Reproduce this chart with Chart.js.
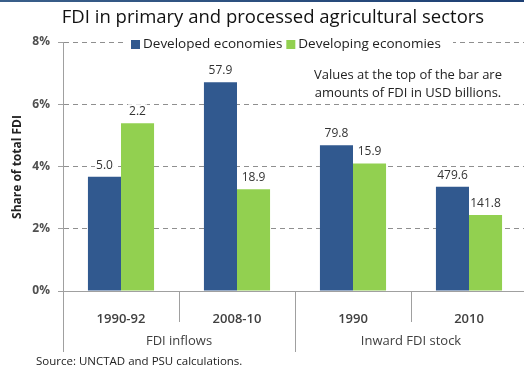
<!DOCTYPE html>
<html>
<head>
<meta charset="utf-8">
<script src="https://cdn.jsdelivr.net/npm/chart.js@4.4.1/dist/chart.umd.min.js"></script>
<style>
  html, body { margin: 0; padding: 0; background: #fff; overflow: hidden; }
  #band { position: absolute; left: 0; top: 0; width: 524px; height: 2px; background: linear-gradient(90deg, #3a5f8a, #1d3f73); }
  #wrap { position: absolute; left: 0; top: 0; width: 530px; height: 368px; }
</style>
</head>
<body>
<div id="wrap"><canvas id="FdiChart" width="530" height="368"></canvas></div>
<div id="band"></div>
<script>
// categories and series
const periods = ['1990-92', '2008-10', '1990', '2010'];
const groups = ['FDI inflows', 'Inward FDI stock'];
const developedShare = [3.67, 6.71, 4.68, 3.35];
const developingShare = [5.39, 3.27, 4.10, 2.44];
// amounts printed above the bars (USD billions)
const developedAmount = ['5.0', '57.9', '79.8', '479.6'];
const developingAmount = ['2.2', '18.9', '15.9', '141.8'];
const yTicks = [0, 2, 4, 6, 8];

const blue = '#31598f';
const green = '#92d050';
const textColor = '#404040';
const fontName = '"Open Sans", sans-serif';

// draws title, legend, note, bar amounts, group labels and dividers
const extras = {
    id: 'extras',
    afterDatasetsDraw(chart) {
        const ctx = chart.ctx;
        const area = chart.chartArea;
        const x = chart.scales.x;

        ctx.save();

        // amounts above bars
        ctx.font = '12px ' + fontName;
        ctx.textAlign = 'center';
        ctx.textBaseline = 'middle';
        [developedAmount, developingAmount].forEach((amounts, di) => {
            chart.getDatasetMeta(di).data.forEach((bar, i) => {
                const txt = amounts[i];
                const w = ctx.measureText(txt).width;
                ctx.fillStyle = '#fff';
                ctx.fillRect(bar.x - w / 2 - 1, bar.y - 19, w + 2, 15);
                ctx.fillStyle = '#333';
                ctx.fillText(txt, bar.x, bar.y - 11.5);
            });
        });

        // note
        ctx.font = '13px ' + fontName;
        ctx.fillStyle = '#222';
        ctx.fillText('Values at the top of the bar are', 408, 75);
        ctx.fillText('amounts of FDI in USD billions.', 408, 93);

        // legend over the top gridline
        ctx.fillStyle = '#fff';
        ctx.fillRect(127, 35, 326, 18);
        ctx.font = '13.5px ' + fontName;
        ctx.textAlign = 'left';
        ctx.fillStyle = blue;
        ctx.fillRect(131, 40, 9, 9);
        ctx.fillStyle = '#222';
        ctx.fillText('Developed economies', 143, 44.5);
        const w1 = ctx.measureText('Developed economies').width;
        ctx.fillStyle = green;
        ctx.fillRect(143 + w1 + 4, 40, 9, 9);
        ctx.fillStyle = '#222';
        ctx.fillText('Developing economies', 143 + w1 + 16, 44.5);

        // title
        ctx.textAlign = 'center';
        ctx.font = '18.5px ' + fontName;
        ctx.fillStyle = '#111';
        ctx.fillText('FDI in primary and processed agricultural sectors', 273, 18);

        // y axis title
        ctx.save();
        ctx.translate(18, 167);
        ctx.rotate(-Math.PI / 2);
        ctx.font = 'bold 12px ' + fontName;
        ctx.fillStyle = '#222';
        ctx.fillText('Share of total FDI', 0, 0);
        ctx.restore();

        // category dividers below the axis
        ctx.strokeStyle = '#a0a0a0';
        ctx.lineWidth = 1;
        const step = (x.getPixelForValue(1) - x.getPixelForValue(0));
        for (let i = 0; i <= periods.length; i++) {
            const px = Math.round(x.getPixelForValue(i) - step / 2) + 0.5;
            const long = (i % 2 === 0);
            ctx.beginPath();
            ctx.moveTo(px, area.bottom);
            ctx.lineTo(px, long ? 352 : 322);
            ctx.stroke();
        }

        // group labels
        ctx.font = '13px ' + fontName;
        ctx.fillStyle = textColor;
        groups.forEach((g, gi) => {
            const cx = (x.getPixelForValue(gi * 2) + x.getPixelForValue(gi * 2 + 1)) / 2;
            ctx.fillText(g, cx, 341.5);
        });

        // source
        ctx.textAlign = 'left';
        ctx.font = '11.5px ' + fontName;
        ctx.fillStyle = '#222';
        ctx.fillText('Source: UNCTAD and PSU calculations.', 36, 362);

        ctx.restore();
    }
};

const ctx = document.getElementById('FdiChart');

new Chart(ctx, {
    type: 'bar',
    data: {
        labels: periods,
        datasets: [
            { label: 'Developed economies', data: developedShare, backgroundColor: blue },
            { label: 'Developing economies', data: developingShare, backgroundColor: green }
        ]
    },
    options: {
        responsive: false,
        animation: false,
        layout: { padding: { top: 42, right: 3, left: 0, bottom: 0 } },
        datasets: { bar: { categoryPercentage: 0.57, barPercentage: 1.0 } },
        scales: {
            x: {
                grid: { display: false },
                border: { display: true, color: '#a0a0a0', width: 1 },
                ticks: {
                    color: textColor,
                    font: { family: fontName, size: 13, weight: '600' },
                    padding: 12,
                    maxRotation: 0
                },
                afterFit: s => { s.height = 77; }
            },
            y: {
                min: 0,
                max: 8,
                afterBuildTicks: s => { s.ticks = yTicks.map(v => ({ value: v })); },
                grid: {
                    color: '#8f8f8f',
                    tickColor: '#a0a0a0',
                    tickLength: 5,
                    lineWidth: 1
                },
                border: { display: true, color: '#a0a0a0', width: 1, dash: [5, 4] },
                ticks: {
                    color: '#505050',
                    font: { family: fontName, size: 12, weight: 'bold' },
                    padding: 8,
                    callback: v => v + '%'
                },
                afterFit: s => { s.width = 63; }
            }
        },
        plugins: {
            legend: { display: false },
            tooltip: { enabled: false }
        }
    },
    plugins: [extras]
});
</script>
</body>
</html>
